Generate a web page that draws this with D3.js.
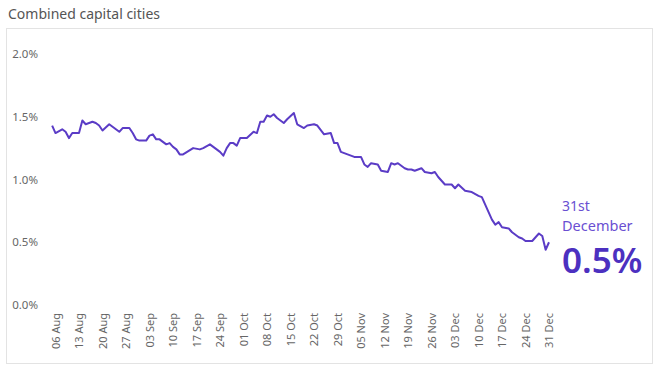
<!DOCTYPE html>
<html lang="en">
<head>
    <meta charset="UTF-8">
    <title>combined-capital-cities</title>
    <style>
        body {
            margin: 0;
            font-family: "Noto Sans", "Open Sans", sans-serif;
            background: #fff;
        }
    </style>
    <script src="https://d3js.org/d3.v7.min.js"></script>
</head>
<body>

<script>

    // daily series (percent)
    let dates = [
        "2023-08-05", "2023-08-06", "2023-08-08", "2023-08-09", "2023-08-10", "2023-08-11", "2023-08-13",
        "2023-08-14", "2023-08-15", "2023-08-17", "2023-08-18", "2023-08-19", "2023-08-20", "2023-08-22",
        "2023-08-23", "2023-08-24", "2023-08-25", "2023-08-26", "2023-08-28", "2023-08-29", "2023-08-30",
        "2023-08-31", "2023-09-02", "2023-09-03", "2023-09-04", "2023-09-05", "2023-09-06", "2023-09-08",
        "2023-09-09", "2023-09-10", "2023-09-11", "2023-09-12", "2023-09-13", "2023-09-16", "2023-09-18",
        "2023-09-19", "2023-09-21", "2023-09-22", "2023-09-24", "2023-09-25", "2023-09-26", "2023-09-27",
        "2023-09-28", "2023-09-29", "2023-09-30", "2023-10-02", "2023-10-04", "2023-10-05", "2023-10-06",
        "2023-10-07", "2023-10-08", "2023-10-09", "2023-10-10", "2023-10-11", "2023-10-13", "2023-10-14",
        "2023-10-16", "2023-10-17", "2023-10-19", "2023-10-20", "2023-10-22", "2023-10-23", "2023-10-25",
        "2023-10-27", "2023-10-28", "2023-10-29", "2023-10-30", "2023-11-01", "2023-11-02", "2023-11-03",
        "2023-11-05", "2023-11-06", "2023-11-07", "2023-11-08", "2023-11-10", "2023-11-11", "2023-11-13",
        "2023-11-14", "2023-11-15", "2023-11-16", "2023-11-18", "2023-11-19", "2023-11-20", "2023-11-21",
        "2023-11-23", "2023-11-24", "2023-11-26", "2023-11-27", "2023-11-28", "2023-11-30", "2023-12-02",
        "2023-12-03", "2023-12-04", "2023-12-06", "2023-12-08", "2023-12-10", "2023-12-11", "2023-12-13",
        "2023-12-14", "2023-12-15", "2023-12-16", "2023-12-17", "2023-12-19", "2023-12-20", "2023-12-22",
        "2023-12-23", "2023-12-24", "2023-12-26", "2023-12-27", "2023-12-28", "2023-12-29", "2023-12-30",
        "2023-12-31"
    ]
    let values = [
        1.43, 1.37, 1.40, 1.38, 1.33, 1.37, 1.37,
        1.47, 1.44, 1.46, 1.45, 1.43, 1.39, 1.44,
        1.42, 1.40, 1.38, 1.41, 1.41, 1.37, 1.32,
        1.31, 1.31, 1.35, 1.36, 1.32, 1.32, 1.28,
        1.29, 1.26, 1.24, 1.20, 1.20, 1.25, 1.24,
        1.25, 1.28, 1.26, 1.22, 1.19, 1.25, 1.29,
        1.29, 1.27, 1.33, 1.33, 1.38, 1.37, 1.46,
        1.46, 1.51, 1.50, 1.52, 1.49, 1.45, 1.48,
        1.53, 1.44, 1.41, 1.43, 1.44, 1.43, 1.36,
        1.37, 1.29, 1.29, 1.22, 1.20, 1.19, 1.18,
        1.18, 1.12, 1.10, 1.13, 1.12, 1.07, 1.06,
        1.13, 1.12, 1.13, 1.09, 1.08, 1.08, 1.07,
        1.09, 1.06, 1.05, 1.06, 1.02, 0.96, 0.96,
        0.93, 0.96, 0.91, 0.90, 0.87, 0.86, 0.74,
        0.68, 0.64, 0.66, 0.62, 0.61, 0.58, 0.54,
        0.53, 0.51, 0.51, 0.54, 0.57, 0.55, 0.44,
        0.50
    ]
    let yTicks = [0, 0.5, 1.0, 1.5, 2.0]
    let xTickStart = "2023-08-06"
    let xTickEnd = "2023-12-31"
    let title = "Combined capital cities"
    let calloutDate = ["31st", "December"]
    let calloutValue = "0.5%"

    let width = 660;
    let height = 374;
    let lineColor = "#5b3cc6"
    let textColor = "#666"

    let parse = d3.timeParse("%Y-%m-%d");
    let data = dates.map(function (d, i) {
        return {date: parse(d), value: values[i]};
    });

    let svg = d3.select("body").append("svg")
        .attr("width", width)
        .attr("height", height);

    // title
    svg.append("text")
        .attr("x", 8)
        .attr("y", 19)
        .attr("fill", "#555")
        .style("font-size", "14px")
        .text(title);

    // panel frame
    svg.append("rect")
        .attr("x", 6.5)
        .attr("y", 28.5)
        .attr("width", 646)
        .attr("height", 335)
        .attr("fill", "none")
        .attr("stroke", "#e3e3e3");

    let x = d3.scaleTime()
        .domain([parse(xTickStart), parse(xTickEnd)])
        .range([55.5, 549]);

    let y = d3.scaleLinear()
        .domain([0, 2])
        .range([305, 54]);

    // y axis
    let yAxis = svg.append("g")
        .attr("transform", "translate(38,0)")
        .call(d3.axisLeft(y).tickValues(yTicks).tickSize(0).tickPadding(0)
            .tickFormat(function (d) { return d3.format(".1f")(d) + "%"; }));
    yAxis.select(".domain").remove();
    yAxis.selectAll("text")
        .attr("fill", textColor)
        .style("font-size", "11.5px")
        .style("font-family", "Noto Sans, sans-serif");

    // x axis, weekly ticks from 06 Aug
    let weekTicks = d3.timeDay.range(parse(xTickStart), d3.timeDay.offset(parse(xTickEnd), 1), 7);
    let xAxis = svg.append("g")
        .attr("transform", "translate(0,313)")
        .call(d3.axisBottom(x).tickValues(weekTicks).tickSize(0).tickPadding(0)
            .tickFormat(d3.timeFormat("%d %b")));
    xAxis.select(".domain").remove();
    xAxis.selectAll("text")
        .attr("fill", textColor)
        .style("font-size", "11px")
        .style("font-family", "Noto Sans, sans-serif")
        .attr("text-anchor", "end")
        .attr("transform", "rotate(-90)")
        .attr("x", 0)
        .attr("y", 0)
        .attr("dy", "0.35em");

    // line
    let line = d3.line()
        .x(function (d) { return x(d.date); })
        .y(function (d) { return y(d.value); });

    svg.append("path")
        .datum(data)
        .attr("d", line)
        .attr("fill", "none")
        .attr("stroke", lineColor)
        .attr("stroke-width", 2)
        .attr("stroke-linejoin", "round");

    // callout
    let callout = svg.append("g").attr("transform", "translate(562,0)");
    callout.append("text")
        .attr("y", 211)
        .attr("fill", "#6a4fd2")
        .style("font-size", "14px")
        .text(calloutDate[0]);
    callout.append("text")
        .attr("y", 231)
        .attr("fill", "#6a4fd2")
        .style("font-size", "14.5px")
        .text(calloutDate[1]);
    callout.append("text")
        .attr("y", 273)
        .attr("fill", "#4c30c0")
        .style("font-size", "35px")
        .style("font-weight", "600")
        .text(calloutValue);

</script>

</body>
</html>
